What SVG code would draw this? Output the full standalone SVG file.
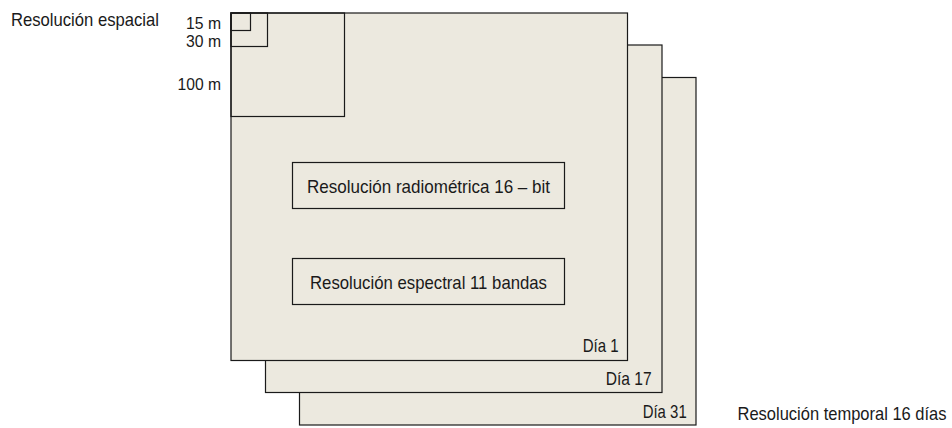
<svg xmlns="http://www.w3.org/2000/svg" width="952" height="428" viewBox="0 0 952 428">
<style>
.sheet{fill:#ECE9DF;stroke:#1a1a1a;stroke-width:1.2}
.box{fill:none;stroke:#1a1a1a;stroke-width:1.2}
text{font-family:"Liberation Sans",Arial,sans-serif;font-size:19px;fill:#1a1a1a}
.s{font-size:17px}
</style>
<rect width="952" height="428" fill="#ffffff"/>
<g id="dia31"><rect class="sheet" x="299.5" y="77.5" width="396.5" height="347.5"/><text x="642.7" y="417.5" textLength="44" lengthAdjust="spacingAndGlyphs">Día 31</text></g>
<g id="dia17"><rect class="sheet" x="265.5" y="45" width="396.5" height="347.5"/><text x="605.7" y="385" textLength="46" lengthAdjust="spacingAndGlyphs">Día 17</text></g>
<g id="dia1"><rect class="sheet" x="231" y="13" width="396.5" height="347.5"/><text x="582.7" y="352" textLength="36" lengthAdjust="spacingAndGlyphs">Día 1</text></g>
<g id="px100"><rect class="box" x="231" y="13" width="113.5" height="103.5"/><text class="s" x="177.5" y="90" textLength="43.5" lengthAdjust="spacingAndGlyphs">100 m</text></g>
<g id="px30"><rect class="box" x="231" y="13" width="36.5" height="33.5"/><text class="s" x="186" y="46.5" textLength="35" lengthAdjust="spacingAndGlyphs">30 m</text></g>
<g id="px15"><rect class="box" x="231" y="13" width="19.5" height="17.5"/><text class="s" x="186" y="29" textLength="35" lengthAdjust="spacingAndGlyphs">15 m</text></g>
<g id="radiometrica"><rect class="box" x="292.5" y="162.5" width="272" height="46"/><text x="307" y="193" textLength="243" lengthAdjust="spacingAndGlyphs">Resolución radiométrica 16 – bit</text></g>
<g id="espectral"><rect class="box" x="292.5" y="258.5" width="272" height="46"/><text x="310" y="289" textLength="237" lengthAdjust="spacingAndGlyphs">Resolución espectral 11 bandas</text></g>
<g id="espacial"><text x="11" y="26" textLength="148" lengthAdjust="spacingAndGlyphs">Resolución espacial</text></g>
<g id="temporal"><text x="737.5" y="420" textLength="209" lengthAdjust="spacingAndGlyphs">Resolución temporal 16 días</text></g>
<g id="connectors"></g>
</svg>
